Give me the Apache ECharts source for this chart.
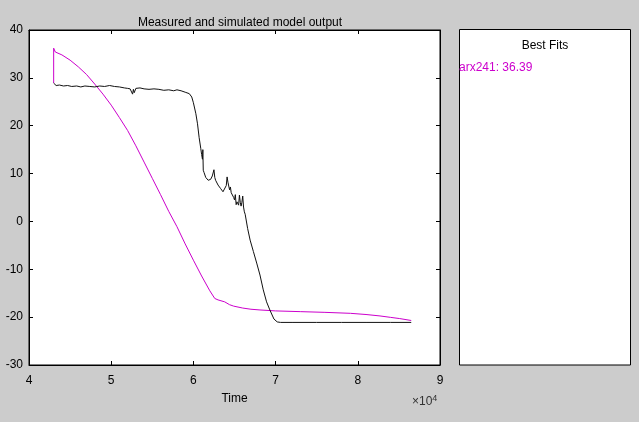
<!DOCTYPE html>
<html>
<head>
<meta charset="utf-8">
<script src="https://cdn.jsdelivr.net/npm/echarts@6/dist/echarts.min.js"></script>
<style>
  html, body { margin: 0; padding: 0; background: #cccccc; }
  #chart { width: 639px; height: 422px; }
</style>
</head>
<body>
<div id="chart"></div>
<script>
// measured output (time in seconds, value)
const measuredTime = [
  43000, 43300, 43700, 44200, 44700, 45200, 45800, 46300, 46800, 47400,
  48000, 48600, 49200, 49800, 50400, 51000, 51600, 52000, 52300, 52500,
  52600, 52700, 52800, 53000, 53500, 54000, 54600, 55200, 55800, 56400,
  57000, 57600, 58000, 58500, 59000, 59500, 59800, 60000, 60300, 60500,
  60700, 60900, 61000, 61100, 61150, 61200, 61300, 61500, 61800, 62100,
  62300, 62500, 62600, 62700, 62800, 63000, 63300, 63600, 63800, 64000,
  64100, 64200, 64300, 64400, 64500, 64600, 64700, 64800, 64900, 65000,
  65100, 65200, 65300, 65500, 65600, 65700, 65800, 65900, 66000, 66100,
  66200, 66300, 66600, 66900, 67300, 67700, 68100, 68500, 68900, 69300,
  69800, 70200, 70600, 72000, 75000, 78000, 81000, 84000, 86500
];
const measuredValue = [
  28.9, 28.4, 28.5, 28.3, 28.4, 28.2, 28.3, 28.1, 28.3, 28.2,
  28.1, 28.3, 28.2, 28.4, 28.2, 28.1, 27.9, 27.8, 27.7, 27.4,
  26.6, 27.6, 26.9, 27.8, 27.9, 27.7, 27.6, 27.7, 27.6, 27.4,
  27.5, 27.3, 27.5, 27.3, 27.0, 26.7, 26.0, 24.8, 22.5, 20.4,
  17.5, 15.2, 14.0, 13.0, 15.0, 10.7, 10.2, 9.2, 8.6, 8.8,
  9.5, 10.8, 9.2, 8.6, 8.4, 7.6, 6.9, 6.2, 6.0, 7.5,
  9.3, 8.2, 7.9, 6.6, 7.2, 6.0, 5.7, 6.3, 5.0, 4.5,
  5.6, 3.5, 4.1, 3.4, 5.5, 4.0, 3.2, 4.0, 5.3, 3.0,
  2.0, 1.5, -1.5, -3.9, -6.3, -8.7, -11.2, -14.3, -16.8, -18.5,
  -20.4, -21.0, -21.1, -21.1, -21.1, -21.1, -21.1, -21.1, -21.1
];

// simulated output of arx241
const simTime = [
  43000, 43000, 43200, 44000, 45000, 46000, 47000, 48000, 49000, 50000,
  51000, 52000, 53000, 54000, 55000, 56000, 57000, 58000, 59000, 60000,
  61000, 62000, 62600, 63000, 63800, 64400, 64900, 66000, 67000, 68100,
  70000, 73000, 76000, 79100, 81000, 82700, 84000, 85100, 86500
];
const simValue = [
  28.9, 36.2, 35.4, 34.8, 33.7, 32.3, 30.7, 28.7, 26.6, 24.3,
  21.7, 19.0, 15.8, 12.4, 9.0, 5.6, 2.1, -1.1, -4.7, -8.1,
  -11.4, -14.5, -16.1, -16.4, -16.8, -17.4, -17.7, -18.1, -18.35, -18.5,
  -18.7, -18.85, -19.0, -19.2, -19.45, -19.75, -20.05, -20.3, -20.7
];

const xTicks = [4, 5, 6, 7, 8, 9];
const yTicks = [-30, -20, -10, 0, 10, 20, 30, 40];

const fitName = 'arx241';
const fitValue = 36.39;

const font = 'Liberation Sans, Arial, sans-serif';

const chart = echarts.init(document.getElementById('chart'));

const pairs = (t, v) => t.map((x, i) => [x, v[i]]);

chart.setOption({
  backgroundColor: '#cccccc',
  animation: false,
  textStyle: { fontFamily: font },
  title: {
    text: 'Measured and simulated model output',
    left: 235,
    top: 12,
    textAlign: 'center',
    textStyle: { fontSize: 12, fontWeight: 'normal', color: '#000', fontFamily: font }
  },
  grid: {
    left: 29, top: 30, width: 411, height: 335,
    show: true, backgroundColor: '#fff', borderColor: '#000', borderWidth: 1
  },
  xAxis: [{
    type: 'value',
    min: xTicks[0] * 1e4,
    max: xTicks[xTicks.length - 1] * 1e4,
    interval: 1e4,
    name: 'Time',
    nameLocation: 'middle',
    nameGap: 28,
    nameTextStyle: { fontSize: 12, color: '#000' },
    axisLine: { onZero: false, lineStyle: { color: '#000' } },
    axisTick: { inside: true, length: 4, lineStyle: { color: '#000' } },
    axisLabel: { fontSize: 12, color: '#000', margin: 10, formatter: v => String(v / 1e4) },
    splitLine: { show: false }
  }, {
    type: 'value',
    position: 'top',
    min: xTicks[0] * 1e4,
    max: xTicks[xTicks.length - 1] * 1e4,
    interval: 1e4,
    axisLine: { onZero: false, lineStyle: { color: '#000' } },
    axisTick: { inside: true, length: 4, lineStyle: { color: '#000' } },
    axisLabel: { show: false },
    splitLine: { show: false }
  }],
  yAxis: [{
    type: 'value',
    min: yTicks[0],
    max: yTicks[yTicks.length - 1],
    interval: 10,
    axisLine: { show: true, onZero: false, lineStyle: { color: '#000' } },
    axisTick: { show: true, inside: true, length: 4, lineStyle: { color: '#000' } },
    axisLabel: { fontSize: 12, color: '#000', margin: 6 },
    splitLine: { show: false }
  }, {
    type: 'value',
    position: 'right',
    min: yTicks[0],
    max: yTicks[yTicks.length - 1],
    interval: 10,
    axisLine: { show: true, onZero: false, lineStyle: { color: '#000' } },
    axisTick: { show: true, inside: true, length: 4, lineStyle: { color: '#000' } },
    axisLabel: { show: false },
    splitLine: { show: false }
  }],
  series: [{
    name: 'Measured',
    type: 'line',
    data: pairs(measuredTime, measuredValue),
    showSymbol: false,
    lineStyle: { color: '#111', width: 1 },
    z: 3
  }, {
    name: fitName,
    type: 'line',
    data: pairs(simTime, simValue),
    showSymbol: false,
    lineStyle: { color: '#cc00cc', width: 1 },
    z: 2
  }],
  graphic: [{
    type: 'rect',
    shape: { x: 459.5, y: 29.5, width: 171, height: 335.5 },
    style: { fill: '#fff', stroke: '#000', lineWidth: 1 }
  }, {
    type: 'text',
    x: 545, y: 46,
    style: { text: 'Best Fits', fill: '#000', font: '12px ' + font, textAlign: 'center', textVerticalAlign: 'middle' }
  }, {
    type: 'text',
    x: 459, y: 68,
    style: { text: fitName + ': ' + fitValue.toFixed(2), fill: '#cc00cc', font: '12px ' + font, textAlign: 'left', textVerticalAlign: 'middle' }
  }, {
    type: 'text',
    x: 412, y: 394,
    style: {
      text: '×10{sup|4}',
      fill: '#333',
      font: '12px ' + font,
      rich: { sup: { fontSize: 9, verticalAlign: 'top', fill: '#333', padding: [0, 0, 6, 0] } }
    }
  }]
});
</script>
</body>
</html>
